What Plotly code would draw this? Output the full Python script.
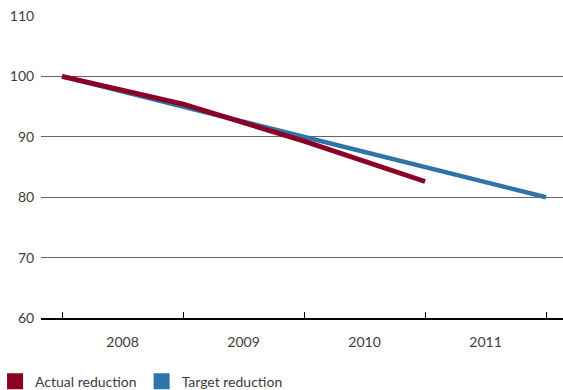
import plotly.graph_objects as go

years = ["2008", "2009", "2010", "2011"]
# series values at the year boundaries (0 = start of 2008, 4 = end of 2011)
actual_pos = [0, 1, 2, 3]
actual_vals = [100, 95.4, 89.3, 82.6]
target_pos = [0, 1, 2, 3, 4]
target_vals = [100, 95, 90, 85, 80]
y_ticks = [60, 70, 80, 90, 100, 110]

RED = "#8b0024"
BLUE = "#2e74a8"
TEXT = "#3d3d3d"
FONT = "Lato, 'Open Sans', sans-serif"

fig = go.Figure()
fig.add_trace(go.Scatter(x=target_pos, y=target_vals, mode="lines",
                         line=dict(color=BLUE, width=4.5), showlegend=False,
                         hoverinfo="skip"))
fig.add_trace(go.Scatter(x=actual_pos, y=actual_vals, mode="lines",
                         line=dict(color=RED, width=5), showlegend=False,
                         hoverinfo="skip"))
# square legend keys
fig.add_trace(go.Scatter(x=[None], y=[None], mode="markers", name="Actual reduction",
                         marker=dict(symbol="square", size=16, color=RED)))
fig.add_trace(go.Scatter(x=[None], y=[None], mode="markers", name="Target reduction",
                         marker=dict(symbol="square", size=16, color=BLUE)))

fig.update_layout(
    width=563, height=390,
    margin=dict(l=41, r=0, t=16, b=72, autoexpand=False),
    paper_bgcolor="white", plot_bgcolor="white",
    font=dict(family=FONT, size=14, color=TEXT),
    showlegend=True,
    legend=dict(orientation="h", xref="paper", yref="paper",
                x=-0.088, y=-0.158, xanchor="left", yanchor="top",
                font=dict(size=14, color=TEXT), itemwidth=30,
                tracegroupgap=0, bgcolor="rgba(0,0,0,0)"),
)
fig.update_xaxes(
    range=[-0.174, 4.14],
    tickvals=[i + 0.5 for i in range(len(years))], ticktext=years,
    ticks="outside", ticklen=10, tickcolor="rgba(0,0,0,0)",
    showgrid=False, zeroline=False,
    showline=True, linecolor="black", linewidth=2,
    tickfont=dict(size=14, color=TEXT),
    minor=dict(tickvals=[0, 1, 2, 3, 4], ticks="inside", ticklen=6,
               tickwidth=1, tickcolor="black", showgrid=False),
)
fig.update_yaxes(
    range=[60, 110], tickvals=y_ticks,
    showgrid=True, gridcolor="#666666", gridwidth=1,
    zeroline=False, showline=False,
    ticks="outside", ticklen=3, tickcolor="rgba(0,0,0,0)",
    tickfont=dict(size=14, color=TEXT),
)

fig.write_html("out.html")
